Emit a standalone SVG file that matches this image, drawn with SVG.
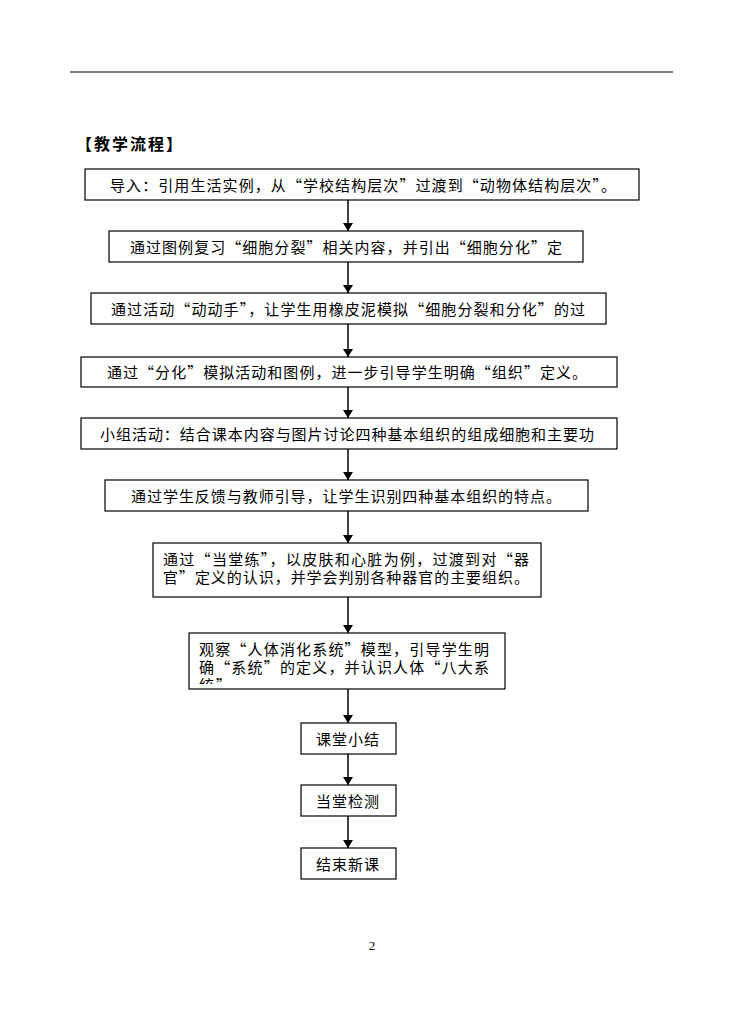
<svg xmlns="http://www.w3.org/2000/svg" width="744" height="1032" viewBox="0 0 744 1032">
<style>
.box{fill:#fff;stroke:#000;stroke-width:1.2}
.t{font-family:"Noto Sans CJK SC","Noto Sans",sans-serif;font-size:15px;fill:#000}
.title{font-family:"Noto Sans CJK SC","Noto Sans",sans-serif;font-size:16px;font-weight:bold;fill:#000}
.conn line{stroke:#000;stroke-width:1.5}
.pg{font-family:"Liberation Serif",serif;font-size:13px;fill:#000}
</style>
<defs>
<marker id="ah" markerWidth="8" markerHeight="10" refX="8" refY="5" orient="auto" markerUnits="userSpaceOnUse">
<path d="M0,0 L8,5 L0,10 Z" fill="#000"/>
</marker>
<clipPath id="clip8"><rect x="189" y="633" width="316" height="51"/></clipPath>
</defs>
<rect width="744" height="1032" fill="#fff"/>
<line x1="70" y1="72" x2="673" y2="72" stroke="#000" stroke-width="1.2"/>
<text class="title" x="76" y="150" textLength="106" lengthAdjust="spacing">【教学流程】</text>

<g id="connectors" class="conn">
<line x1="348" y1="200" x2="348" y2="231" marker-end="url(#ah)"/>
<line x1="348" y1="262" x2="348" y2="293" marker-end="url(#ah)"/>
<line x1="348" y1="324" x2="348" y2="357" marker-end="url(#ah)"/>
<line x1="348" y1="387" x2="348" y2="418" marker-end="url(#ah)"/>
<line x1="348" y1="449" x2="348" y2="480" marker-end="url(#ah)"/>
<line x1="348" y1="511" x2="348" y2="543" marker-end="url(#ah)"/>
<line x1="348" y1="597" x2="348" y2="633" marker-end="url(#ah)"/>
<line x1="348" y1="689" x2="348" y2="723" marker-end="url(#ah)"/>
<line x1="348" y1="754" x2="348" y2="785" marker-end="url(#ah)"/>
<line x1="348" y1="816" x2="348" y2="848" marker-end="url(#ah)"/>
</g>

<g id="n1">
<rect class="box" x="85" y="169" width="554" height="31"/>
<text class="t" x="110" y="191" textLength="506" lengthAdjust="spacing">导入：引用生活实例，从“学校结构层次”过渡到“动物体结构层次”。</text>
</g>
<g id="n2">
<rect class="box" x="109" y="231" width="474" height="31"/>
<text class="t" x="130" y="253" textLength="432" lengthAdjust="spacing">通过图例复习“细胞分裂”相关内容，并引出“细胞分化”定</text>
</g>
<g id="n3">
<rect class="box" x="91" y="293" width="515" height="31"/>
<text class="t" x="111" y="315" textLength="474" lengthAdjust="spacing">通过活动“动动手”，让学生用橡皮泥模拟“细胞分裂和分化”的过</text>
</g>
<g id="n4">
<rect class="box" x="81" y="357" width="536" height="30"/>
<text class="t" x="107" y="378" textLength="480" lengthAdjust="spacing">通过“分化”模拟活动和图例，进一步引导学生明确“组织”定义。</text>
</g>
<g id="n5">
<rect class="box" x="81" y="418" width="536" height="31"/>
<text class="t" x="100" y="440" textLength="494" lengthAdjust="spacing">小组活动：结合课本内容与图片讨论四种基本组织的组成细胞和主要功</text>
</g>
<g id="n6">
<rect class="box" x="105" y="480" width="483" height="31"/>
<text class="t" x="131" y="502" textLength="430" lengthAdjust="spacing">通过学生反馈与教师引导，让学生识别四种基本组织的特点。</text>
</g>
<g id="n7">
<rect class="box" x="153" y="543" width="388" height="54"/>
<text class="t"><tspan x="163" y="565" textLength="366" lengthAdjust="spacing">通过“当堂练”，以皮肤和心脏为例，过渡到对“器</tspan><tspan x="163" y="583" textLength="366" lengthAdjust="spacing">官”定义的认识，并学会判别各种器官的主要组织。</tspan></text>
</g>
<g id="n8">
<rect class="box" x="189" y="633" width="316" height="56"/>
<g clip-path="url(#clip8)">
<text class="t"><tspan x="199" y="655" textLength="290" lengthAdjust="spacing">观察“人体消化系统”模型，引导学生明</tspan><tspan x="199" y="673" textLength="290" lengthAdjust="spacing">确“系统”的定义，并认识人体“八大系</tspan><tspan x="199" y="691" textLength="32" lengthAdjust="spacing">统”</tspan></text>
</g>
</g>
<g id="n9">
<rect class="box" x="301" y="723" width="95" height="31"/>
<text class="t" x="316" y="745" textLength="63" lengthAdjust="spacing">课堂小结</text>
</g>
<g id="n10">
<rect class="box" x="301" y="785" width="95" height="31"/>
<text class="t" x="316" y="807" textLength="63" lengthAdjust="spacing">当堂检测</text>
</g>
<g id="n11">
<rect class="box" x="301" y="848" width="95" height="31"/>
<text class="t" x="316" y="870" textLength="63" lengthAdjust="spacing">结束新课</text>
</g>

<text class="pg" x="372" y="950" text-anchor="middle">2</text>
</svg>
